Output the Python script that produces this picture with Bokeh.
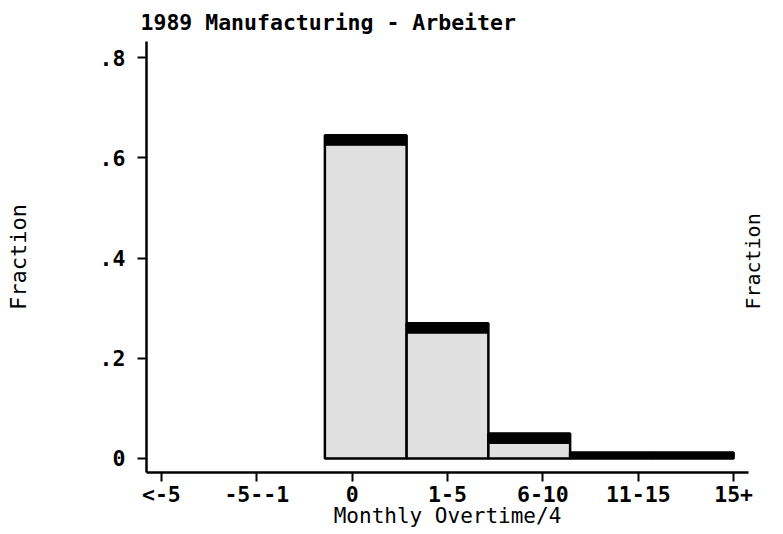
import math
from bokeh.plotting import figure
from bokeh.models import Range1d, FixedTicker, ColumnDataSource, LinearAxis
from bokeh.embed import file_html
from bokeh.resources import INLINE

# ---- data ----
categories = ["<-5", "-5--1", "0", "1-5", "6-10", "11-15", "15+"]
fractions = [0.0, 0.0, 0.645, 0.27, 0.05, 0.012, 0.012]
y_ticks = [0, 0.2, 0.4, 0.6, 0.8]
y_tick_labels = ["0", ".2", ".4", ".6", ".8"]

title_text = "1989 Manufacturing - Arbeiter"
x_title = "Monthly Overtime/4"
y_title = "Fraction"

# histogram: 7 equal bins spanning the tick positions 0..6
n = len(categories)
lo, hi = 0.0, float(n - 1)
w = (hi - lo) / n
band = 0.02
keep = [i for i in range(n) if fractions[i] > 0]
shown = ColumnDataSource(dict(
    left=[lo + i * w for i in keep],
    right=[lo + (i + 1) * w for i in keep],
    top=[fractions[i] for i in keep],
    bottom=[0.0 for i in keep],
    band_bottom=[max(0.0, fractions[i] - band) for i in keep],
))

FONT = "DejaVu Sans Mono"
x0, x1 = -0.156, 6.156
y0, y1 = -0.028, 0.832

p = figure(width=780, height=532, output_backend="svg", toolbar_location=None,
           x_range=Range1d(x0, x1), y_range=Range1d(y0, y1),
           min_border_left=146, min_border_right=30, min_border_top=41,
           min_border_bottom=60)
p.background_fill_color = "white"
p.border_fill_color = "white"
p.outline_line_color = None
p.xgrid.visible = False
p.ygrid.visible = False

# bars
p.quad(left="left", right="right", top="top", bottom="bottom", source=shown,
       fill_color="#e0e0e0", line_color="black", line_width=2.5)
p.quad(left="left", right="right", top="top", bottom="band_bottom", source=shown,
       fill_color="black", line_color="black", line_width=1)

# title
p.title.text = title_text
p.title.text_font = FONT
p.title.text_font_size = "21.5px"
p.title.text_font_style = "bold"
p.title.text_color = "black"
p.title.offset = -6
p.title.standoff = 13

# axes
xa = p.xaxis[0]
ya = p.yaxis[0]
for ax in [xa, ya]:
    ax.axis_line_width = 2.5
    ax.axis_line_color = "black"
    ax.major_tick_line_width = 2
    ax.major_tick_line_color = "black"
    ax.major_tick_in = 0
    ax.major_tick_out = 9
    ax.minor_tick_line_color = None
    ax.major_label_text_font = FONT
    ax.major_label_text_font_size = "21.5px"
    ax.major_label_text_font_style = "bold"
    ax.major_label_text_color = "black"
    ax.axis_label_text_font = FONT
    ax.axis_label_text_font_style = "normal"
    ax.axis_label_text_color = "black"

xa.ticker = FixedTicker(ticks=list(range(n)))
xa.major_label_overrides = {i: c for i, c in enumerate(categories)}
xa.axis_label = x_title
xa.axis_label_text_font_size = "21px"
xa.major_label_standoff = 0
xa.axis_label_standoff = -6

ya.ticker = FixedTicker(ticks=y_ticks)
ya.major_label_overrides = {t: l for t, l in zip(y_ticks, y_tick_labels)}
ya.axis_label = y_title
ya.axis_label_text_font_size = "22px"
ya.major_label_standoff = 12
ya.axis_label_standoff = 66
ya.major_label_orientation = "horizontal"

# right-side label (neighbouring panel's y title), reading bottom-to-top;
# drawn as a single rotated tick label whose text starts at the tick
mid = 0.297
ra = LinearAxis(ticker=FixedTicker(ticks=[mid]),
                major_label_overrides={mid: y_title},
                major_label_orientation=math.pi / 2,
                axis_line_color=None, major_tick_line_color=None,
                minor_tick_line_color=None, major_tick_out=0, major_tick_in=0,
                major_label_standoff=5,
                major_label_text_font=FONT, major_label_text_font_size="20px",
                major_label_text_font_style="normal", major_label_text_color="black")
p.add_layout(ra, "right")

open("out.html", "w").write(file_html(p, INLINE))
